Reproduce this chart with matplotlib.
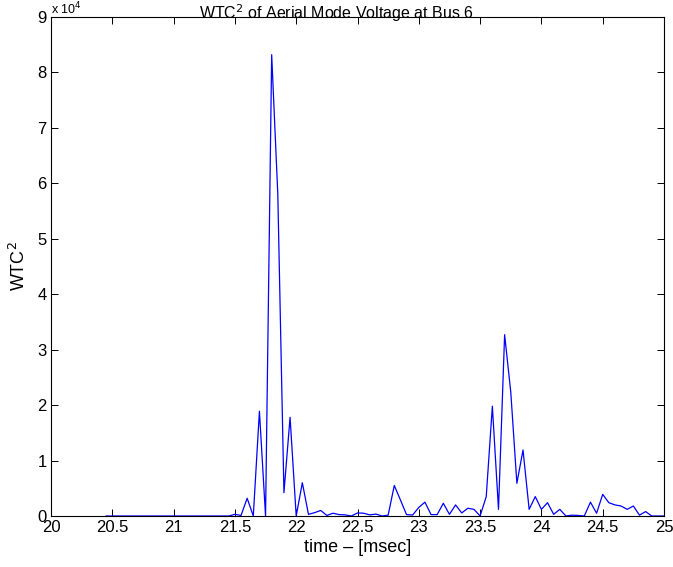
import numpy as np
import matplotlib
matplotlib.use("Agg")
import matplotlib.pyplot as plt

plt.rcParams['font.family'] = ['Liberation Sans', 'DejaVu Sans']

# time samples (msec), 0.05 msec step
t_start = 20.45
t_step = 0.05
# WTC^2 values from 20.45 to 21.45 are zero
zeros_head = [0.0] * 21
values_tail = [
    300, 100, 3200, 0, 18900, 0, 83200, 58000, 4200, 17800,      # 21.50 - 21.95
    0, 6000, 300, 600, 1000, 100, 500, 250, 200, 0,              # 22.00 - 22.45
    550, 500, 200, 350, 0, 150, 5500, 2900, 250, 180,            # 22.50 - 22.95
    1550, 2500, 250, 250, 2300, 300, 2000, 550, 1400, 1200,      # 23.00 - 23.45
    0, 3500, 19800, 1200, 32700, 22400, 5900, 11900, 1200, 3500, # 23.50 - 23.95
    1200, 2400, 300, 1200, 0, 150, 100, 0, 2500, 500,            # 24.00 - 24.45
    3900, 2400, 2000, 1800, 1200, 1800, 150, 800, 0, 0,          # 24.50 - 24.95
    0,                                                           # 25.00
]
wtc2 = np.array(zeros_head + values_tail, dtype=float)
time = t_start + t_step * np.arange(len(wtc2))

xticks = [20, 20.5, 21, 21.5, 22, 22.5, 23, 23.5, 24, 24.5, 25]
xticklabels = ['20', '20.5', '21', '21.5', '22', '22.5', '23', '23.5', '24', '24.5', '25']
yticks = [0, 1e4, 2e4, 3e4, 4e4, 5e4, 6e4, 7e4, 8e4, 9e4]
yticklabels = ['0', '1', '2', '3', '4', '5', '6', '7', '8', '9']

fig = plt.figure(figsize=(6.73, 5.67), dpi=100)
ax = fig.add_axes([51/673, 51/567, (664-51)/673, (516-17)/567])
ax.plot(time, wtc2, color='#0000ff', linewidth=0.9)

ax.set_xlim(20, 25)
ax.set_ylim(0, 9e4)
ax.set_xticks(xticks)
ax.set_xticklabels(xticklabels)
ax.set_yticks(yticks)
ax.set_yticklabels(yticklabels)
ax.tick_params(direction='in', top=True, right=True, length=5, width=0.7,
               labelsize=12, pad=3)
for s in ax.spines.values():
    s.set_linewidth(0.8)

fig.text(0.5, 1 - 2/567, 'WTC$^2$ of Aerial Mode Voltage at Bus 6',
         fontsize=11.5, ha='center', va='top')
ax.set_xlabel('time \u2013 [msec]', fontsize=13, labelpad=3)
ax.set_ylabel('WTC$^2$', fontsize=13, labelpad=6)
ax.text(0.0, 1.0, 'x 10$^4$', transform=ax.transAxes, fontsize=9,
        ha='left', va='bottom')

fig.savefig('out.png', dpi=100)
